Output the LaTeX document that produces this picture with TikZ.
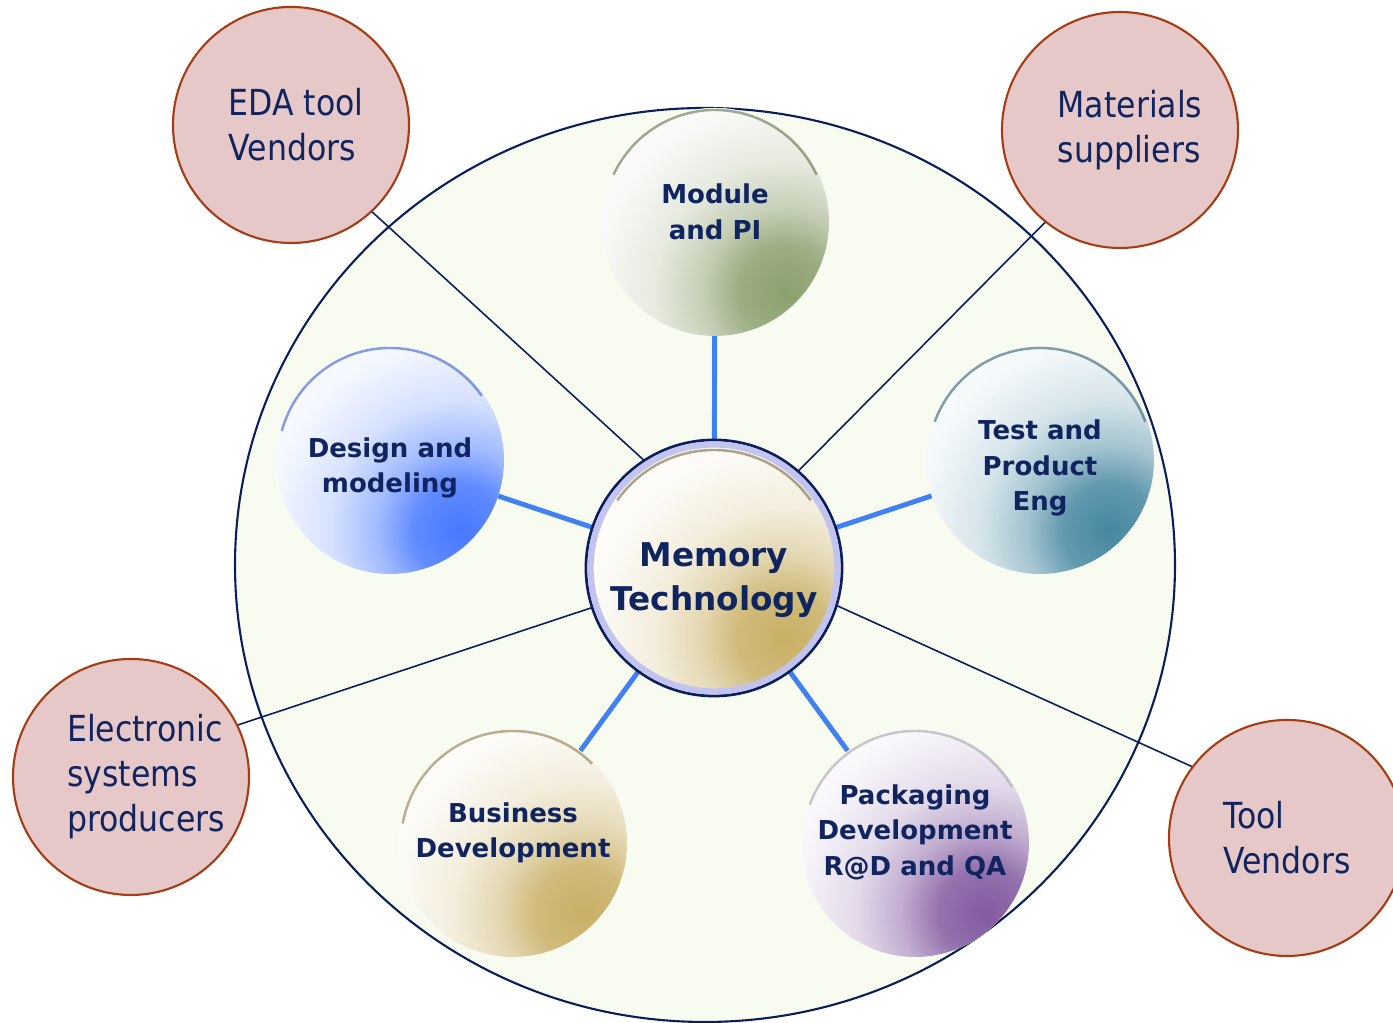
\documentclass[tikz,border=0pt]{standalone}
\usepackage{fontspec}
\setmainfont{DejaVu Sans}
\newfontfamily\partyfont[FakeStretch=0.88]{DejaVu Sans}
\usetikzlibrary{backgrounds}

\definecolor{navytext}{RGB}{16,36,96}
\definecolor{navyline}{RGB}{10,30,90}
\definecolor{linkblue}{RGB}{64,128,240}
\definecolor{bigfill}{RGB}{248,252,240}
\definecolor{pinkfill}{RGB}{230,200,200}
\definecolor{pinkrim}{RGB}{165,60,20}
\definecolor{ringcol}{RGB}{195,195,240}
\definecolor{modcol}{RGB}{140,160,110}
\definecolor{designcol}{RGB}{70,120,255}
\definecolor{testcol}{RGB}{70,135,160}
\definecolor{buscol}{RGB}{200,175,100}
\definecolor{packcol}{RGB}{130,90,160}
\definecolor{memcol}{RGB}{200,175,100}

% colour spot fading out to white
\newcommand\spotshading[2]{%
  \pgfdeclareradialshading{#1}{\pgfpointorigin}{color(0bp)=(#2); color(4.5bp)=(#2!85!white);
    color(8bp)=(#2!50!white); color(12.5bp)=(#2!22!white); color(18bp)=(#2!6!white);
    color(24bp)=(white); color(50bp)=(white)}}
\spotshading{modshade}{modcol}
\spotshading{designshade}{designcol}
\spotshading{testshade}{testcol}
\spotshading{busshade}{buscol}
\spotshading{packshade}{packcol}
\spotshading{memshade}{memcol}

\begin{document}
\begin{tikzpicture}[
  sat/.style={circle, minimum size=2.28cm, inner sep=0pt, outer sep=0pt, fill=white,
    path picture={\shade[shading=#1]
      ([shift={(0.7,-0.7)}]path picture bounding box.center) circle (2.6);}},
  satlbl/.style={align=center, inner sep=0pt, text=navytext,
    font=\bfseries\fontsize{7.4}{10.1}\selectfont},
  party/.style={circle, minimum size=2.36cm, inner sep=0pt, outer sep=0pt,
    fill=pinkfill, draw=pinkrim, line width=0.6pt},
  partylbl/.style={align=left, inner sep=0pt, text=navytext,
    font=\partyfont\fontsize{10.2}{12.8}\selectfont},
  spoke/.style={draw=linkblue, line width=1.4pt},
  tie/.style={draw=navyline, line width=0.45pt},
  rim/.style={line width=0.7pt, opacity=0.6}
]
\useasboundingbox (0,0) rectangle (13.93,10.23);

% centre and the five groups
\node[sat=memshade, minimum size=2.56cm, draw=navyline, line width=0.8pt,
  label={[satlbl, font=\bfseries\fontsize{9.3}{12.5}\selectfont, yshift=-1.2mm]center:Memory\\Technology}]
  (mem) at (7.14,4.55) {};
\draw[ringcol, line width=1.8pt] (mem.center) circle (1.235);
\draw[rim, memcol!60!black] (mem.center) ++(35:1.18) arc (35:145:1.18);

\node[sat=modshade, label={[satlbl, yshift=1mm]center:Module\\and PI}] (module) at (7.15,8.01) {};
\node[sat=testshade, label={[satlbl, yshift=-0.8mm]center:Test and\\Product\\Eng}] (test) at (10.40,5.63) {};
\node[sat=designshade, label={[satlbl, yshift=-0.8mm]center:Design and\\modeling}] (design) at (3.90,5.63) {};
\node[sat=busshade, label={[satlbl, yshift=1mm]center:Business\\Development}] (business) at (5.13,1.80) {};
\node[sat=packshade, label={[satlbl, yshift=1.1mm]center:Packaging\\Development\\R@D and QA}] (packaging) at (9.15,1.80) {};

\draw[rim, modcol!70!black] (module.center) ++(25:1.12) arc (25:155:1.12);
\draw[rim, testcol!70!black] (test.center) ++(20:1.12) arc (20:160:1.12);
\draw[rim, designcol!80!black] (design.center) ++(35:1.12) arc (35:165:1.12);
\draw[rim, buscol!70!black] (business.center) ++(45:1.12) arc (45:170:1.12);
\draw[rim, gray!70] (packaging.center) ++(30:1.12) arc (30:160:1.12);

% outside parties
\node[party, label={[partylbl, xshift=0.5mm]center:EDA tool\\Vendors}] (eda) at (2.91,8.98) {};
\node[party, label={[partylbl, xshift=1mm]center:Materials\\suppliers}] (materials) at (11.20,8.93) {};
\node[party, label={[partylbl, xshift=1.5mm]center:Electronic\\systems\\producers}] (esp) at (1.31,2.46) {};
\node[party, label={[partylbl]center:Tool\\Vendors}] (tool) at (12.87,1.85) {};

\begin{pgfonlayer}{background}
\draw[navyline, line width=0.6pt, fill=bigfill] (7.05,4.58) ellipse (4.70 and 4.57);
\draw[tie] (mem.123) -- (eda.-47);
\draw[tie] (mem.49) -- (materials.231);
\draw[tie] (mem.198) -- (esp.26);
\draw[tie] (mem.-17.5) -- (tool.143);
\foreach \g in {module,test,design,business,packaging}
  \draw[spoke] (mem) -- (\g);
\end{pgfonlayer}
\end{tikzpicture}
\end{document}
